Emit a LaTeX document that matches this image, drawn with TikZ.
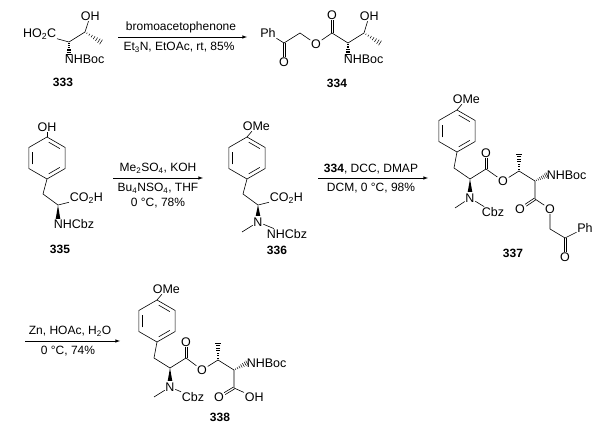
\documentclass[tikz,border=0pt]{standalone}
\usepackage{fontspec}
\setmainfont{Liberation Sans}
\usetikzlibrary{calc}
\newcommand\hashbond[2]{\foreach \t in {0.12,0.27,0.42,0.57,0.72,0.87,1}{\coordinate (hh) at ($(#1)!\t!(#2)$);
 \draw[line width=0.5pt] ($(hh)!{0.4pt+\t*2.3pt}!90:(#1)$) -- ($(hh)!{0.4pt+\t*2.3pt}!-90:(#1)$);}}
\newcommand\wedgebond[2]{\fill (#1) -- ($(#2)!2.3pt!90:(#1)$) -- ($(#2)!2.3pt!-90:(#1)$) -- cycle;}
\newcommand\dbond[2]{\path (#1) -- (#2) coordinate[pos=0] (ds) coordinate[pos=1] (de);
 \draw ($(ds)!1.1pt!90:(de)$) -- ($(de)!1.1pt!-90:(ds)$);
 \draw ($(ds)!1.1pt!-90:(de)$) -- ($(de)!1.1pt!90:(ds)$);}
\newcommand\benz[4]{\coordinate (#1-c) at (#2,#3);
 \foreach \k in {1,...,6}{\coordinate (#1-\k) at ($(#1-c)+({-90+60*(\k-1)}:#4)$);}
 \draw (#1-1)--(#1-2)--(#1-3)--(#1-4)--(#1-5)--(#1-6)--cycle;
 \foreach \a/\b in {1/2,3/4,5/6}{\draw[shorten <=2pt,shorten >=2pt] ($(#1-\a)!0.2!(#1-c)$) -- ($(#1-\b)!0.2!(#1-c)$);}}
\begin{document}
\begin{tikzpicture}[x=1pt,y=-1pt,line width=0.6pt,
 atom/.style={inner sep=0.5pt,font=\fontsize{12.5}{14}\selectfont},
 txt/.style={inner sep=1pt,font=\fontsize{12}{14.5}\selectfont,align=center},
 lab/.style={inner sep=1pt,font=\fontsize{12}{14}\selectfont\bfseries},
 arr/.style={-latex,line width=0.6pt}]
\useasboundingbox (0,0) rectangle (600,427);
% 333
\node[atom,anchor=east] (m1acid) at (57,34) {HO\textsubscript{2}C};
\coordinate (m1a) at (69,42); \coordinate (m1b) at (85,32);
\node[atom,anchor=west] (m1oh) at (80,16) {OH};
\coordinate (m1me) at (101,42); \coordinate (m1n) at (69,54);
\draw (m1acid) -- (m1a) -- (m1b); \draw (m1b) -- (m1oh);
\hashbond{m1b}{m1me} \hashbond{m1a}{m1n}
\node[atom,anchor=north west] (m1nh) at (64,54) {NHBoc};
\node[lab] (l333) at (63,82) {333};
% arrow 1
\coordinate (a1s) at (118,37); \coordinate (a1e) at (247,37);
\draw[arr] (a1s) -- (a1e);
\node[txt,anchor=south] (a1t) at (181,34) {bromoacetophenone};
\node[txt,anchor=north] (a1b) at (179,41) {Et\textsubscript{3}N, EtOAc, rt, 85\%};
% 334
\node[atom] (m2ph) at (268,33) {Ph};
\coordinate (m2c1) at (284,43); \node[atom] (m2o1) at (284,62) {O};
\coordinate (m2c2) at (300,33); \node[atom] (m2oe) at (316,44) {O};
\coordinate (m2c3) at (332,33); \node[atom] (m2o3) at (332,15) {O};
\coordinate (m2a) at (348,43); \coordinate (m2b) at (364,33);
\node[atom,anchor=west] (m2oh) at (359,16) {OH};
\coordinate (m2me) at (380,43); \coordinate (m2n) at (348,54);
\draw (m2ph) -- (m2c1) -- (m2c2) -- (m2oe) -- (m2c3) -- (m2a) -- (m2b) -- (m2oh);
\dbond{m2c1}{m2o1} \dbond{m2c3}{m2o3}
\hashbond{m2b}{m2me} \hashbond{m2a}{m2n}
\node[atom,anchor=north west] (m2nh) at (343,54) {NHBoc};
\node[lab] (l334) at (337,83) {334};
% 335
\benz{r1}{47}{158}{21}
\node[atom] (m3oh) at (47,127) {OH};
\draw (r1-1) -- (m3oh);
\coordinate (m3ch) at (43,194); \coordinate (m3a) at (58,205);
\node[atom,anchor=west] (m3co) at (69,198) {CO\textsubscript{2}H};
\draw (r1-4) -- (m3ch) -- (m3a) -- (m3co);
\coordinate (m3n) at (58,219); \wedgebond{m3a}{m3n}
\node[atom,anchor=north west] (m3nh) at (53,219) {NHCbz};
\node[lab] (l335) at (60,249) {335};
% arrow 2
\coordinate (a2s) at (113,178); \coordinate (a2e) at (203,178);
\draw[arr] (a2s) -- (a2e);
\node[txt,anchor=south] (a2t) at (158,175) {Me\textsubscript{2}SO\textsubscript{4}, KOH};
\node[txt,anchor=north] (a2b) at (158,182) {Bu\textsubscript{4}NSO\textsubscript{4}, THF\\0 °C, 78\%};
% 336
\benz{r2}{247}{158}{21}
\node[atom,anchor=west] (m4ome) at (242,126) {OMe};
\draw (r2-1) -- (m4ome);
\coordinate (m4ch) at (243,194); \coordinate (m4a) at (258,205);
\node[atom,anchor=west] (m4co) at (269,198) {CO\textsubscript{2}H};
\draw (r2-4) -- (m4ch) -- (m4a) -- (m4co);
\node[atom] (m4n) at (258,222) {N}; \coordinate (m4nw) at (258,216);
\wedgebond{m4a}{m4nw}
\coordinate (m4me) at (242,232);
\node[atom,anchor=west] (m4nh) at (266,234) {NHCbz};
\draw (m4n) -- (m4me); \draw (m4n) -- (m4nh);
\node[lab] (l336) at (277,250) {336};
% arrow 3
\coordinate (a3s) at (318,178); \coordinate (a3e) at (428,178);
\draw[arr] (a3s) -- (a3e);
\node[txt,anchor=south] (a3t) at (371,175) {\textbf{334}, DCC, DMAP};
\node[txt,anchor=north] (a3b) at (371,182) {DCM, 0 °C, 98\%};
% 337
\benz{r3}{457}{131}{21}
\node[atom,anchor=west] (m5ome) at (452,99) {OMe};
\draw (r3-1) -- (m5ome);
\coordinate (m5ch) at (454,168); \coordinate (m5a) at (470,179);
\node[atom] (m5n) at (470,198) {N}; \coordinate (m5nw) at (470,192);
\wedgebond{m5a}{m5nw}
\coordinate (m5me) at (455,208);
\node[atom,anchor=west] (m5cbz) at (481,212) {Cbz};
\draw (m5n) -- (m5me); \draw (m5n) -- (m5cbz);
\coordinate (m5c1) at (486,169); \node[atom] (m5o1) at (486,153) {O};
\node[atom] (m5oe) at (503,181) {O};
\coordinate (m5cb) at (519,171); \coordinate (m5mb) at (519,154);
\coordinate (m5c2) at (535,181); \coordinate (m5nb) at (547,175);
\node[atom,anchor=west] (m5nh) at (546,175) {NHBoc};
\coordinate (m5c3) at (535,199); \node[atom] (m5o3) at (520,209) {O};
\node[atom] (m5oe2) at (550,209) {O};
\coordinate (m5ch2) at (550,229); \coordinate (m5c4) at (565,238);
\node[atom] (m5o4) at (565,257) {O};
\node[atom] (m5ph) at (585,228) {Ph};
\draw (r3-4) -- (m5ch) -- (m5a) -- (m5c1) -- (m5oe) -- (m5cb) -- (m5c2) -- (m5c3) -- (m5oe2) -- (m5ch2) -- (m5c4) -- (m5ph);
\dbond{m5c1}{m5o1} \dbond{m5c3}{m5o3} \dbond{m5c4}{m5o4}
\hashbond{m5cb}{m5mb} \hashbond{m5c2}{m5nb}
\node[lab] (l337) at (513,253) {337};
% arrow 4
\coordinate (a4s) at (25,341); \coordinate (a4e) at (120,341);
\draw[arr] (a4s) -- (a4e);
\node[txt,anchor=south] (a4t) at (70,338) {Zn, HOAc, H\textsubscript{2}O};
\node[txt,anchor=north] (a4b) at (68,345) {0 °C, 74\%};
% 338
\benz{r4}{157}{321}{21}
\node[atom,anchor=west] (m6ome) at (152,289) {OMe};
\draw (r4-1) -- (m6ome);
\coordinate (m6ch) at (154,358); \coordinate (m6a) at (170,368);
\node[atom] (m6n) at (170,387) {N}; \coordinate (m6nw) at (170,381);
\wedgebond{m6a}{m6nw}
\coordinate (m6me) at (154,397);
\node[atom,anchor=west] (m6cbz) at (181,397) {Cbz};
\draw (m6n) -- (m6me); \draw (m6n) -- (m6cbz);
\coordinate (m6c1) at (186,358); \node[atom] (m6o1) at (186,342) {O};
\node[atom] (m6oe) at (202,370) {O};
\coordinate (m6cb) at (218,360); \coordinate (m6mb) at (218,343);
\coordinate (m6c2) at (234,370); \coordinate (m6nb) at (247,363);
\node[atom,anchor=west] (m6nh) at (246,363) {NHBoc};
\coordinate (m6c3) at (234,388); \node[atom] (m6o3) at (219,397) {O};
\node[atom,anchor=west] (m6oh) at (244,397) {OH};
\draw (r4-4) -- (m6ch) -- (m6a) -- (m6c1) -- (m6oe) -- (m6cb) -- (m6c2) -- (m6c3) -- (m6oh);
\dbond{m6c1}{m6o1} \dbond{m6c3}{m6o3}
\hashbond{m6cb}{m6mb} \hashbond{m6c2}{m6nb}
\node[lab] (l338) at (220,417) {338};
\end{tikzpicture}
\end{document}
